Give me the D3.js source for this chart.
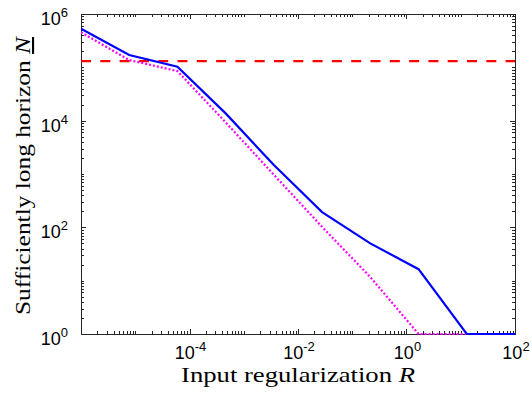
<!DOCTYPE html>
<html>
<head>
<meta charset="utf-8">
<script src="https://cdn.jsdelivr.net/npm/d3@7/dist/d3.min.js"></script>
<style>
  body { margin: 0; background: #fff; }
  svg { display: block; }
  .tick-label { font-family: "Liberation Sans", Arial, sans-serif; font-size: 18px; fill: #000; }
  .axis-title { font-family: "Liberation Serif", "Times New Roman", serif; font-size: 21px; fill: #000; }
</style>
</head>
<body>
<div id="chart"></div>
<script>
// input regularization R (x values)
var rValues = [1e-6, 7.74e-6, 5.99e-5, 4.64e-4, 3.59e-3, 2.78e-2, 0.215, 1.668, 12.9, 100];
// sufficiently long horizon, solid blue
var horizonA = [5.3e5, 1.7e5, 1.03e5, 1.37e4, 1470, 193, 50, 16.4, 1, 1];
// dotted magenta
var horizonB = [4.55e5, 1.37e5, 8.5e4, 9.3e3, 966, 102, 11.7, 1, 1, 1];
// dashed red reference level
var refLevel = 1.31e5;

var xTickExps = [-4, -2, 0, 2];
var yTickExps = [0, 2, 4, 6];

var width = 532, height = 406;
// plot box (top is a reserved global name, so prefix these)
var pLeft = 81, pRight = 515, pTop = 14, pBottom = 334;

var svg = d3.select("#chart").append("svg")
    .attr("width", width)
    .attr("height", height);

var x = d3.scaleLog().domain([1e-6, 1e2]).range([pLeft, pRight]);
var y = d3.scaleLog().domain([1, 1e6]).range([pBottom, pTop]);

var axisColor = "#262626";
var g = svg.append("g");

function logTicks(lo, hi) {
    var out = [];
    for (var e = lo; e < hi; e++) {
        for (var m = 1; m < 10; m++) out.push({ v: m * Math.pow(10, e), e: e, m: m });
    }
    out.push({ v: Math.pow(10, hi), e: hi, m: 1 });
    return out;
}

// ticks point inward, on all four sides
logTicks(-6, 2).forEach(function (t) {
    var major = t.m === 1 && xTickExps.indexOf(t.e) >= 0;
    var len = major ? 5 : 3;
    var px = Math.round(x(t.v)) + 0.5;
    g.append("line").attr("x1", px).attr("x2", px).attr("y1", pBottom).attr("y2", pBottom - len)
        .attr("stroke", axisColor).attr("stroke-width", 1);
    g.append("line").attr("x1", px).attr("x2", px).attr("y1", pTop).attr("y2", pTop + len)
        .attr("stroke", axisColor).attr("stroke-width", 1);
});

logTicks(0, 6).forEach(function (t) {
    var major = t.m === 1 && yTickExps.indexOf(t.e) >= 0;
    var len = major ? 5 : 3;
    var py = Math.round(y(t.v)) + 0.5;
    g.append("line").attr("x1", pLeft).attr("x2", pLeft + len).attr("y1", py).attr("y2", py)
        .attr("stroke", axisColor).attr("stroke-width", 1);
    g.append("line").attr("x1", pRight).attr("x2", pRight - len).attr("y1", py).attr("y2", py)
        .attr("stroke", axisColor).attr("stroke-width", 1);
});

svg.append("rect")
    .attr("x", pLeft + 0.5).attr("y", pTop + 0.5)
    .attr("width", pRight - pLeft).attr("height", pBottom - pTop)
    .attr("fill", "none").attr("stroke", axisColor).attr("stroke-width", 1);

// tick labels
xTickExps.forEach(function (e) {
    var t = svg.append("text").attr("class", "tick-label")
        .attr("x", x(Math.pow(10, e)) + 1).attr("y", 359)
        .attr("text-anchor", "middle");
    t.append("tspan").text("10");
    t.append("tspan").attr("dy", -8).style("font-size", "13px").text(e);
});

yTickExps.forEach(function (e) {
    var t = svg.append("text").attr("class", "tick-label")
        .attr("x", 68).attr("y", y(Math.pow(10, e)) + 11)
        .attr("text-anchor", "end");
    t.append("tspan").text("10");
    t.append("tspan").attr("dy", -8).style("font-size", "13px").text(e);
});

// lines
var line = d3.line()
    .x(function (d) { return x(d[0]); })
    .y(function (d) { return y(d[1]); });

svg.append("clipPath").attr("id", "plotclip")
    .append("rect").attr("x", pLeft).attr("y", pTop - 2)
    .attr("width", pRight - pLeft + 1).attr("height", pBottom - pTop + 4);

var plot = svg.append("g").attr("clip-path", "url(#plotclip)");

plot.append("path")
    .datum([[1e-6, refLevel], [1e2, refLevel]])
    .attr("d", line)
    .attr("fill", "none").attr("stroke", "#ff0000")
    .attr("stroke-width", 2.2).attr("stroke-dasharray", "10,9.3");

plot.append("path")
    .datum(d3.zip(rValues, horizonB))
    .attr("d", line)
    .attr("fill", "none").attr("stroke", "#ff00ff")
    .attr("stroke-width", 2.2).attr("stroke-dasharray", "2,2");

plot.append("path")
    .datum(d3.zip(rValues, horizonA))
    .attr("d", line)
    .attr("fill", "none").attr("stroke", "#0000ff")
    .attr("stroke-width", 2.2);

// axis titles
var xt = svg.append("text").attr("class", "axis-title")
    .attr("x", 181).attr("y", 382)
    .attr("textLength", 234).attr("lengthAdjust", "spacingAndGlyphs");
xt.append("tspan").text("Input regularization ");
xt.append("tspan").style("font-style", "italic").text("R");

var yt = svg.append("text").attr("class", "axis-title")
    .attr("transform", "translate(30,315) rotate(-90)")
    .attr("textLength", 278).attr("lengthAdjust", "spacingAndGlyphs");
yt.append("tspan").text("Sufficiently long horizon ");
yt.append("tspan").style("font-style", "italic").style("text-decoration", "underline").text("N");
</script>
</body>
</html>
